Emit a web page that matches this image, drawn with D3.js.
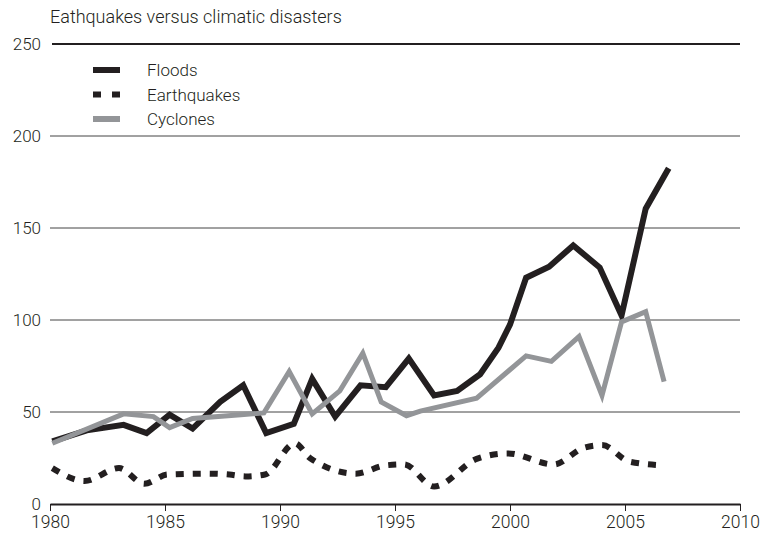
<!DOCTYPE html>
<html>
<head>
<meta charset="utf-8">
<script src="https://cdn.jsdelivr.net/npm/d3@7"></script>
<style>
  body { margin: 0; background: #fff; }
  svg text { font-family: Roboto, "Liberation Sans", sans-serif; font-weight: 300; fill: #231f20; }
</style>
</head>
<body>
<svg id="chart"></svg>
<script>
// values: [year, count]
const floods = [
  [1980.1, 34], [1981.6, 40], [1983.2, 43], [1984.2, 38.5], [1985.2, 48.5],
  [1986.2, 41], [1987.4, 55.5], [1988.4, 64.5], [1989.4, 38.5], [1990.6, 43.5],
  [1991.4, 68], [1992.4, 47.5], [1993.5, 64.5], [1994.6, 63.5], [1995.6, 79],
  [1996.7, 59], [1997.7, 61.5], [1998.7, 70.5], [1999.5, 85], [2000, 97.5],
  [2000.7, 123], [2001.7, 129], [2002.75, 140.5], [2003.9, 128.5], [2004.85, 102.5],
  [2005.9, 160.5], [2006.9, 182.5]
];
const earthquakes = [
  [1980.1, 19.5], [1981.5, 12.5], [1983, 19.5], [1984.1, 11], [1985.1, 16],
  [1986.8, 16.5], [1987.8, 16], [1988.5, 15], [1989.35, 16], [1990.65, 33],
  [1991.3, 25], [1993.3, 16.5], [1994.6, 21], [1995.4, 21.5], [1996.7, 9.5],
  [1998.55, 24.5], [1999.9, 27.5], [2001.9, 21.5], [2003.2, 30.5], [2004, 32],
  [2005.2, 23], [2006.7, 21]
];
const cyclones = [
  [1980.1, 33], [1983.2, 49], [1984.5, 47.5], [1985.2, 41.5], [1986.2, 46.5],
  [1988.3, 48.5], [1989.3, 49.5], [1990.4, 72], [1991.4, 49], [1992.6, 61.5],
  [1993.6, 82], [1994.4, 55.5], [1995.5, 48], [1996.1, 50.5], [1998.55, 57.5],
  [2000.7, 80.5], [2001.8, 77.5], [2003, 91], [2004, 59], [2004.85, 99],
  [2005.9, 104.5], [2006.7, 66.5]
];
const yTicks = [0, 50, 100, 150, 200, 250];
const xTicks = [1980, 1985, 1990, 1995, 2000, 2005, 2010];
const seriesNames = ['Floods', 'Earthquakes', 'Cyclones'];

const width = 760;
const height = 536;
const margin = { top: 44, right: 20, bottom: 32, left: 50 };

const svg = d3.select('#chart')
  .attr('width', width)
  .attr('height', height);

const x = d3.scaleLinear().domain([1980, 2010]).range([margin.left, width - margin.right]);
const y = d3.scaleLinear().domain([0, 250]).range([height - margin.bottom, margin.top]);

svg.append('text')
  .attr('x', 50)
  .attr('y', 23)
  .attr('font-size', 18)
  .text('Eathquakes versus climatic disasters');

// grid lines
svg.append('g')
  .selectAll('line')
  .data(yTicks.filter(d => d > 0))
  .enter().append('line')
    .attr('x1', d => d === 250 ? x(1980) + 2 : x(1980))
    .attr('x2', x(2010))
    .attr('y1', d => y(d))
    .attr('y2', d => y(d))
    .attr('stroke', d => d === 250 ? '#231f20' : '#444')
    .attr('stroke-width', d => d === 250 ? 2 : 1);

// y labels
svg.append('g')
  .selectAll('text')
  .data(yTicks)
  .enter().append('text')
    .attr('x', 41)
    .attr('y', d => y(d))
    .attr('dy', '0.34em')
    .attr('text-anchor', 'end')
    .attr('font-size', 17)
    .text(d => d);

// x axis
const xAxis = svg.append('g')
  .attr('transform', `translate(0, ${y(0)})`)
  .call(d3.axisBottom(x)
    .tickValues(xTicks)
    .tickFormat(d3.format('d'))
    .tickSize(7)
    .tickPadding(5)
    .tickSizeOuter(0));
xAxis.select('.domain').attr('stroke', '#231f20').attr('stroke-width', 2);
xAxis.selectAll('.tick line').attr('stroke', '#231f20').attr('stroke-width', 1);
xAxis.selectAll('.tick text')
  .attr('font-size', 17.5)
  .attr('font-family', 'Roboto, "Liberation Sans", sans-serif')
  .attr('font-weight', 300)
  .attr('fill', '#231f20');

const line = d3.line()
  .x(d => x(d[0]))
  .y(d => y(d[1]));

const styles = {
  Floods: { color: '#231f20', width: 6, dash: null },
  Earthquakes: { color: '#231f20', width: 6, dash: '8,9' },
  Cyclones: { color: '#939598', width: 5, dash: null }
};

const plot = svg.append('g');

plot.append('path')
  .datum(earthquakes)
  .attr('fill', 'none')
  .attr('stroke', styles.Earthquakes.color)
  .attr('stroke-width', styles.Earthquakes.width)
  .attr('stroke-dasharray', styles.Earthquakes.dash)
  .attr('d', line.curve(d3.curveMonotoneX));

line.curve(d3.curveLinear);

plot.append('path')
  .datum(floods)
  .attr('fill', 'none')
  .attr('stroke', styles.Floods.color)
  .attr('stroke-width', styles.Floods.width)
  .attr('stroke-linejoin', 'miter')
  .attr('d', line);

plot.append('path')
  .datum(cyclones)
  .attr('fill', 'none')
  .attr('stroke', styles.Cyclones.color)
  .attr('stroke-width', styles.Cyclones.width)
  .attr('stroke-linejoin', 'miter')
  .attr('d', line);

// legend
const legend = svg.append('g')
  .selectAll('g')
  .data(seriesNames)
  .enter().append('g')
    .attr('transform', (d, i) => `translate(93, ${70 + i * 24.5})`);

legend.append('line')
  .attr('x1', 0)
  .attr('x2', 27)
  .attr('stroke', d => styles[d].color)
  .attr('stroke-width', 6)
  .attr('stroke-dasharray', d => d === 'Earthquakes' ? '8,11' : null);

legend.append('text')
  .attr('x', 54)
  .attr('dy', '0.36em')
  .attr('font-size', 17)
  .text(d => d);
</script>
</body>
</html>
